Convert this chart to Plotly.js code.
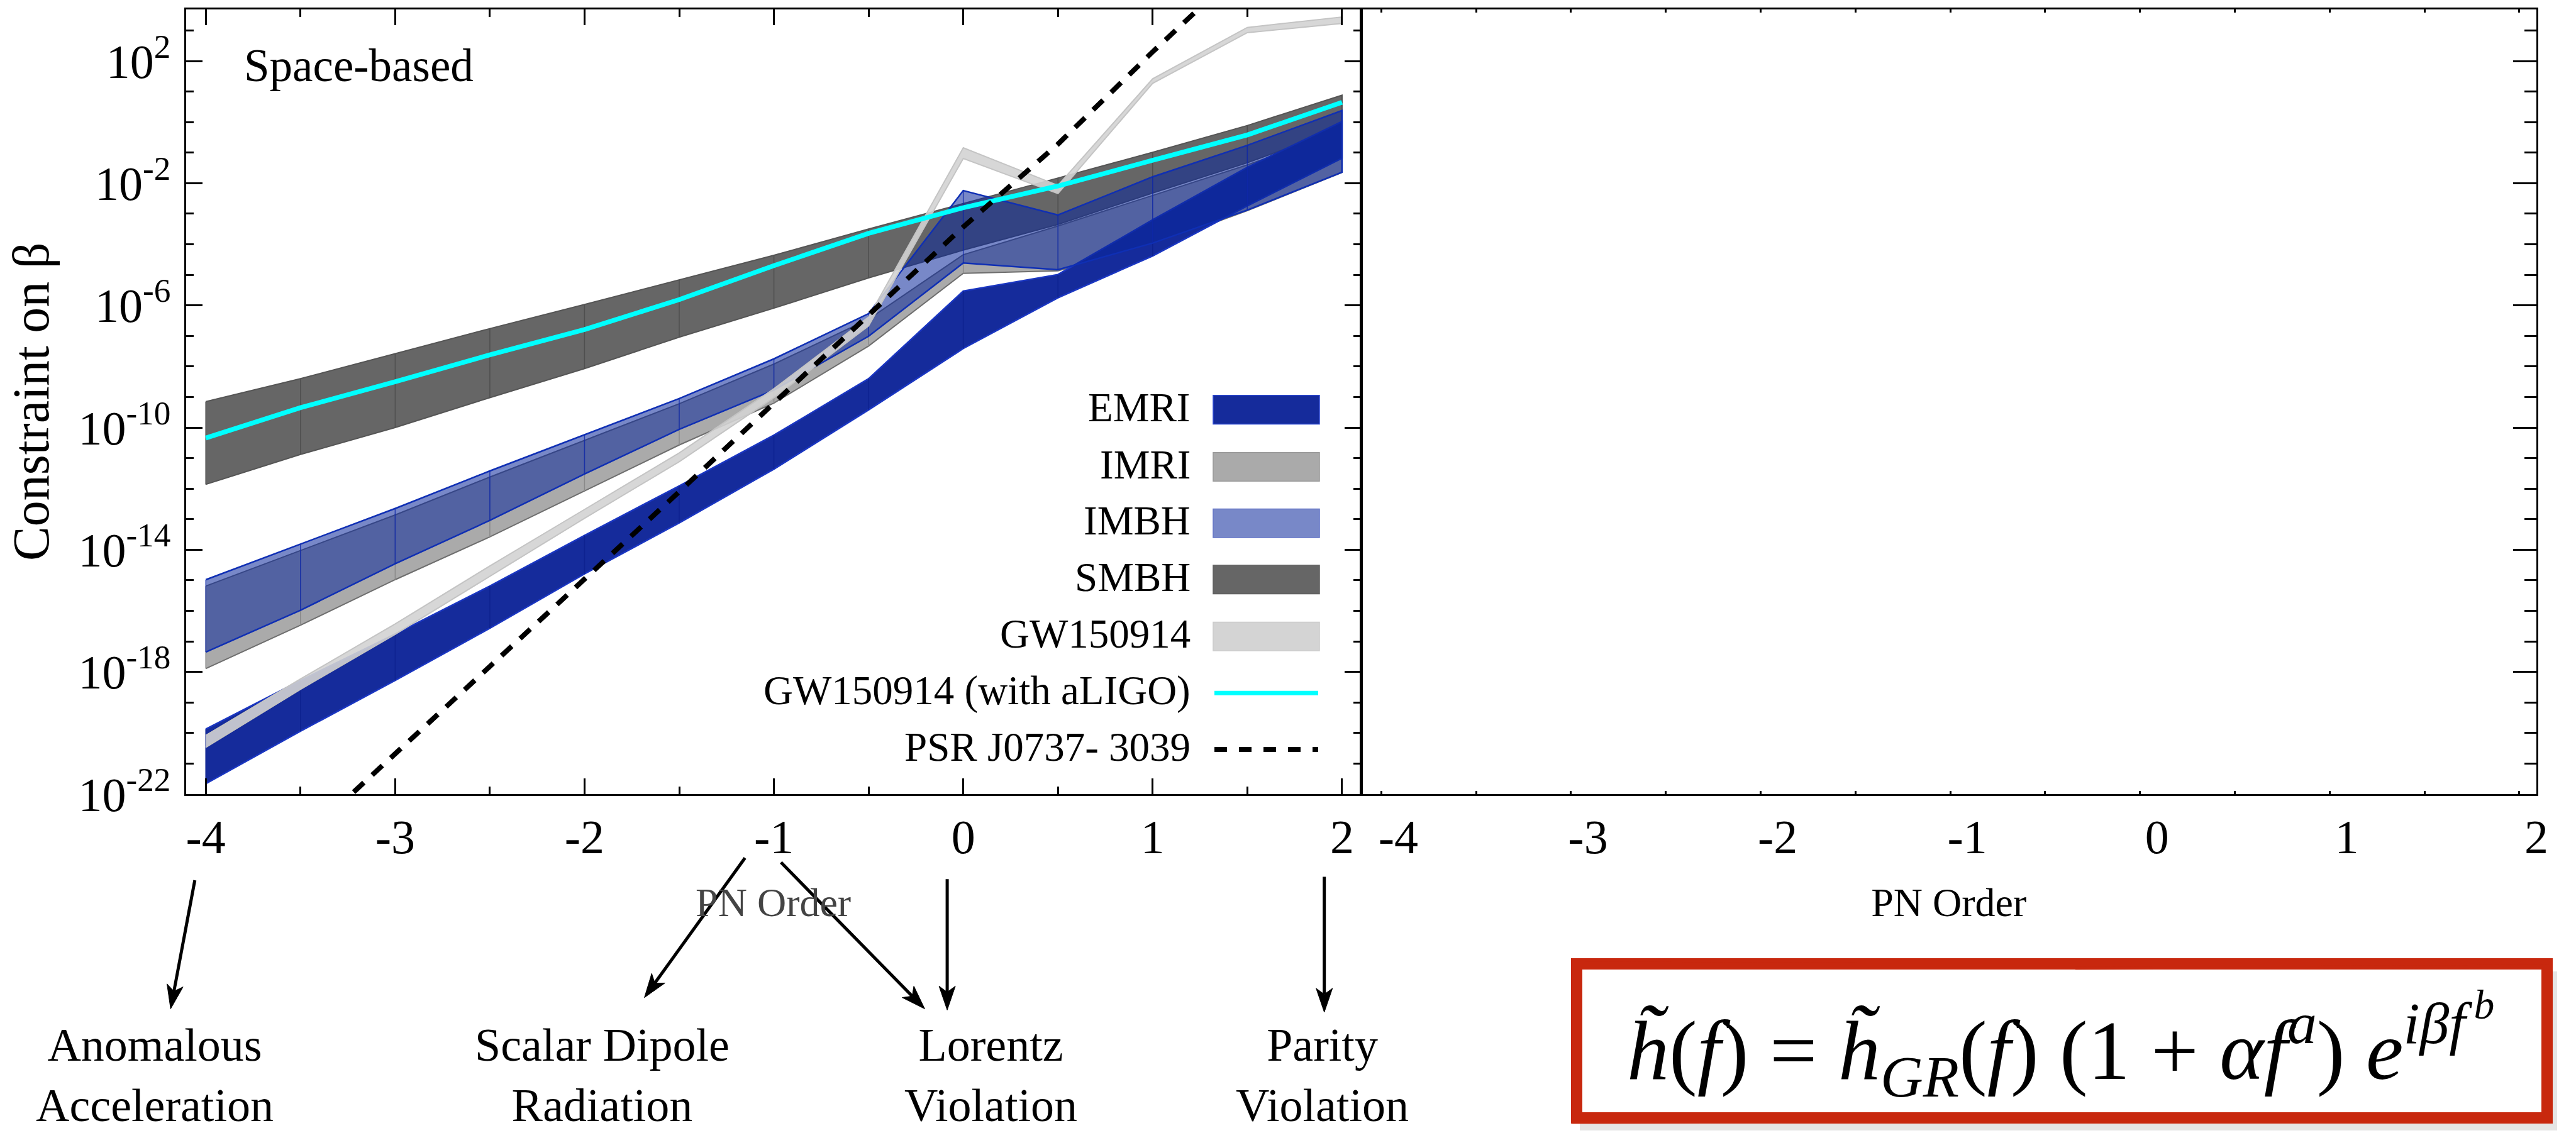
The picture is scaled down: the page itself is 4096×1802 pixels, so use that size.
<!DOCTYPE html>
<html><head><meta charset="utf-8">
<script src="https://cdn.plot.ly/plotly-3.0.1.min.js"></script>
<style>html,body{margin:0;padding:0;background:#fff;overflow:hidden}#chart{width:4096px;height:1802px}</style>
</head><body><div id="chart"></div>
<script>
const W = 4096, H = 1802;
const FONT = "'Liberation Serif', 'DejaVu Serif', serif";

// PN order (x positions of the curves)
const pnOrder = [-4, -3.5, -3, -2.5, -2, -1.5, -1, -0.5, 0, 0.5, 1, 1.5, 2];

// log10 of the constraint on beta
const emriTop    = [-19.87, -18.28, -16.76, -15.19, -13.53, -11.91, -10.25, -8.40, -5.53, -4.99, -3.20, -1.48, 0.02];
const emriBottom = [-21.66, -19.94, -18.28, -16.57, -14.79, -13.12, -11.36, -9.42, -7.41, -5.75, -4.38, -2.74, -1.18];
const imriTop    = [-15.19, -14.02, -12.86, -11.62, -10.42, -9.22, -7.92, -6.45, -4.34, -3.40, -2.40, -1.40, -0.30];
const imriBottom = [-17.89, -16.47, -14.98, -13.58, -12.08, -10.57, -9.20, -7.33, -4.95, -4.87, -4.03, -2.90, -1.65];
const imbhTop    = [-14.98, -13.82, -12.65, -11.42, -10.24, -9.05, -7.75, -6.27, -2.24, -3.04, -1.79, -0.76, 0.38];
const imbhBottom = [-17.35, -15.98, -14.46, -13.04, -11.52, -10.06, -8.77, -7.01, -4.61, -4.83, -3.96, -2.88, -1.64];
const smbhTop    = [-9.15, -8.40, -7.58, -6.76, -5.97, -5.16, -4.36, -3.50, -2.67, -1.83, -0.99, -0.11, 0.88];
const smbhBottom = [-11.86, -10.88, -10.00, -9.02, -8.07, -7.04, -6.09, -5.10, -4.19, -3.35, -2.32, -1.33, -0.20];
const gwTop      = [-20.08, -18.23, -16.43, -14.53, -12.68, -10.83, -8.73, -6.38, -0.84, -2.07, 1.42, 3.10, 3.44];
const gwBottom   = [-20.47, -18.57, -16.77, -14.87, -12.97, -11.12, -9.02, -6.67, -1.19, -2.34, 1.27, 2.93, 3.23];
const gwAligo    = [-10.34, -9.35, -8.50, -7.62, -6.79, -5.81, -4.70, -3.64, -2.80, -2.09, -1.25, -0.42, 0.65];
const psr        = [-26.40, -23.55, -20.70, -17.80, -14.95, -12.10, -9.20, -6.30, -3.43, -0.72, 2.30, 5.20, 8.10];

// axis ticks
const xTickVals = [-4, -3, -2, -1, 0, 1, 2];
const xTickText = ['-4', '-3', '-2', '-1', '0', '1', '2'];
const xMinorVals = [-3.5, -2.5, -1.5, -0.5, 0.5, 1.5];
const yMajorExp = [-22, -18, -14, -10, -6, -2, 2];
const yMinorExp = [-21, -20, -19, -17, -16, -15, -13, -12, -11, -9, -8, -7, -5, -4, -3, -1, 0, 1, 3];
const x2MinorVals = [-4.09, -3.59, -3.09, -2.59, -2.09, -1.59, -1.09, -0.59, -0.09, 0.41, 0.91, 1.41, 1.91];

// legend and annotation texts
const legendNames = ['EMRI', 'IMRI', 'IMBH', 'SMBH', 'GW150914', 'GW150914 (with aLIGO)', 'PSR J0737- 3039'];
const effectLabels = ['Anomalous<br>Acceleration', 'Scalar Dipole<br>Radiation', 'Lorentz<br>Violation', 'Parity<br>Violation'];

const p10 = v => Math.pow(10, v);
const px = v => v / W;
const py = v => 1 - v / H;

function band(top, bottom, fill, edge, ew) {
  const xs = pnOrder.concat(pnOrder.slice().reverse());
  const ys = top.map(p10).concat(bottom.slice().reverse().map(p10));
  return {x: xs, y: ys, mode: 'lines', fill: 'toself', fillcolor: fill,
          line: {color: edge, width: ew}, hoverinfo: 'skip', showlegend: false, xaxis: 'x', yaxis: 'y'};
}
function mesh(top, bottom, color, w) {
  const xs = [], ys = [];
  pnOrder.forEach((x, i) => { xs.push(x, x, null); ys.push(p10(bottom[i]), p10(top[i]), null); });
  return {x: xs, y: ys, mode: 'lines', line: {color: color, width: w}, hoverinfo: 'skip', showlegend: false, xaxis: 'x', yaxis: 'y'};
}

const traces = [
  band(imriTop, imriBottom, '#aaaaaa', '#6e6e6e', 2),
  mesh(imriTop, imriBottom, '#8a8a8a', 1.5),
  band(smbhTop, smbhBottom, '#666666', '#555555', 2),
  mesh(smbhTop, smbhBottom, '#4f4f4f', 1.5),
  band(emriTop, emriBottom, '#152b9b', '#1a36c2', 2.5),
  mesh(emriTop, emriBottom, '#0e2290', 1.5),
  band(imbhTop, imbhBottom, 'rgba(10,39,155,0.55)', '#0f2fb4', 2.5),
  mesh(imbhTop, imbhBottom, 'rgba(15,40,170,0.8)', 1.5),
  band(gwTop, gwBottom, 'rgba(211,211,211,0.9)', '#c4c4c4', 2),
  {x: pnOrder, y: gwAligo.map(p10), mode: 'lines', line: {color: '#00ffff', width: 7.5}, hoverinfo: 'skip', showlegend: false, xaxis: 'x', yaxis: 'y'},
  {x: pnOrder, y: psr.map(p10), mode: 'lines', line: {color: '#000000', width: 8, dash: '22px,18px'}, hoverinfo: 'skip', showlegend: false, xaxis: 'x', yaxis: 'y'},
  {x: [], y: [], mode: 'lines', showlegend: false, xaxis: 'x2', yaxis: 'y2'}
];

const yDom = [py(1263), py(14.5)];
const tickFont = {family: FONT, size: 76, color: '#000'};
const yMajorVals = yMajorExp.map(p10);
const yMajorText = yMajorExp.map(e => '10<sup>' + (e < 0 ? '-' + (-e) : e) + '</sup>');
const yMinorVals = yMinorExp.map(p10);

const layout = {
  width: W, height: H, autosize: false,
  margin: {l: 0, r: 0, t: 0, b: 0},
  paper_bgcolor: '#fff', plot_bgcolor: '#fff',
  font: {family: FONT, color: '#000'},
  showlegend: false,
  xaxis: {
    domain: [px(295.6), px(2163.7)], anchor: 'y', range: [-4.105, 2.099],
    tickmode: 'array', tickvals: xTickVals, ticktext: xTickText,
    ticks: 'inside', ticklen: 25, tickwidth: 3, tickcolor: '#000',
    minor: {tickmode: 'array', tickvals: xMinorVals, ticks: 'inside', ticklen: 12, tickwidth: 3, tickcolor: '#000', showgrid: false},
    showline: true, linewidth: 3, linecolor: '#000', mirror: 'ticks',
    showgrid: false, zeroline: false, tickfont: tickFont, ticklabelstandoff: 0,
    title: {text: 'PN Order', font: {family: FONT, size: 64, color: '#444'}, standoff: 40}
  },
  yaxis: {
    domain: yDom, anchor: 'x', type: 'log', range: [-22, 3.7],
    tickmode: 'array', tickvals: yMajorVals, ticktext: yMajorText,
    ticks: 'inside', ticklen: 26, tickwidth: 3, tickcolor: '#000',
    minor: {tickmode: 'array', tickvals: yMinorVals, ticks: 'inside', ticklen: 12, tickwidth: 3, tickcolor: '#000', showgrid: false},
    showline: true, linewidth: 3, linecolor: '#000', mirror: 'ticks',
    showgrid: false, zeroline: false, tickfont: tickFont, ticklabelstandoff: 6,
    title: {text: 'Constraint on β', font: {family: FONT, size: 82, color: '#000'}, standoff: 20}
  },
  xaxis2: {
    domain: [px(2164.6), px(4033)], anchor: 'y2', range: [-4.195, 2.0],
    tickmode: 'array', tickvals: xTickVals, ticktext: xTickText, ticks: '',
    minor: {tickmode: 'array', tickvals: x2MinorVals, ticks: 'inside', ticklen: 5, tickwidth: 3, tickcolor: '#000', showgrid: false},
    showline: true, linewidth: 3, linecolor: '#000', mirror: 'ticks',
    showgrid: false, zeroline: false, tickfont: tickFont, ticklabelstandoff: 0,
    title: {text: 'PN Order', font: {family: FONT, size: 64, color: '#000'}, standoff: 40}
  },
  yaxis2: {
    domain: yDom, anchor: 'x2', type: 'log', range: [-22, 3.7], side: 'right',
    tickmode: 'array', tickvals: yMajorVals, showticklabels: false,
    ticks: 'inside', ticklen: 37, tickwidth: 3, tickcolor: '#000',
    minor: {tickmode: 'array', tickvals: yMinorVals, ticks: 'inside', ticklen: 19, tickwidth: 3, tickcolor: '#000', showgrid: false},
    showline: true, linewidth: 3, linecolor: '#000', mirror: true,
    showgrid: false, zeroline: false
  },
  shapes: [],
  annotations: []
};

// ---- custom legend (text left of swatch) ----
const legY = [651.6, 742.5, 832.3, 921.8, 1012.2, 1102.3, 1191.9];
const swFill = ['#152b9b', '#aaaaaa', '#7888c8', '#666666', '#d4d4d4'];
const swEdge = ['#2a46d0', '#999999', '#6475c6', '#606060', '#cccccc'];
const sx0 = 1929, sx1 = 2098, sh = 45.6;
for (let i = 0; i < 5; i++) {
  layout.shapes.push({type: 'rect', xref: 'paper', yref: 'paper',
    x0: px(sx0), x1: px(sx1), y0: py(legY[i] + sh / 2), y1: py(legY[i] - sh / 2),
    fillcolor: swFill[i], line: {color: swEdge[i], width: 1.5}});
}
layout.shapes.push({type: 'line', xref: 'paper', yref: 'paper', x0: px(sx0 + 2), x1: px(sx1 - 2), y0: py(legY[5]), y1: py(legY[5]),
  line: {color: '#00ffff', width: 7}});
layout.shapes.push({type: 'line', xref: 'paper', yref: 'paper', x0: px(sx0 + 2), x1: px(sx1 - 2), y0: py(legY[6]), y1: py(legY[6]),
  line: {color: '#000', width: 8, dash: '20px,19px'}});
legendNames.forEach((t, i) => {
  layout.annotations.push({text: t, xref: 'paper', yref: 'paper', x: px(1895), y: py(legY[i] - 4),
    xanchor: 'right', yanchor: 'middle', showarrow: false, font: {family: FONT, size: 65, color: '#000'}});
});

// ---- panel label ----
layout.annotations.push({text: 'Space-based', xref: 'paper', yref: 'paper', x: px(386), y: py(104),
  xanchor: 'left', yanchor: 'middle', showarrow: false, font: {family: FONT, size: 73, color: '#000'}});

// ---- arrows from PN orders to effects (drawn as line + head shapes) ----
const arrows = [
  [309.8, 1400.0, 271.3, 1604.6],
  [1184.6, 1364.5, 1024.6, 1586.7],
  [1241.8, 1371.6, 1470.4, 1604.6],
  [1506.1, 1398.3, 1506.1, 1606.4],
  [2105.7, 1394.4, 2105.7, 1609.9]
];
arrows.forEach(a => {
  const dx = a[2] - a[0], dy = a[3] - a[1];
  const len = Math.hypot(dx, dy), ux = dx / len, uy = dy / len;
  const L = 38, hw = 13, back = 0.75;
  const bx = a[2] - ux * L, by = a[3] - uy * L;
  const cx = a[2] - ux * L * back, cy = a[3] - uy * L * back;
  const p1x = bx - uy * hw, p1y = by + ux * hw;
  const p2x = bx + uy * hw, p2y = by - ux * hw;
  layout.shapes.push({type: 'line', xref: 'paper', yref: 'paper', x0: px(a[0]), y0: py(a[1]), x1: px(cx), y1: py(cy),
    line: {color: '#000', width: 5}});
  layout.shapes.push({type: 'path', xref: 'paper', yref: 'paper',
    path: 'M' + px(a[2]) + ',' + py(a[3]) + ' L' + px(p1x) + ',' + py(p1y) + ' L' + px(cx) + ',' + py(cy) +
          ' L' + px(p2x) + ',' + py(p2y) + ' Z',
    fillcolor: '#000', line: {color: '#000', width: 1}});
});
const effX = [246, 957.5, 1575, 2102];
effectLabels.forEach((t, i) => {
  layout.annotations.push({text: t, xref: 'paper', yref: 'paper', x: px(effX[i]), y: py(1801),
    xanchor: 'center', yanchor: 'bottom', align: 'center', showarrow: false,
    font: {family: FONT, size: 74, color: '#000'}});
});

// ---- formula box ----
layout.shapes.push({type: 'rect', xref: 'paper', yref: 'paper', x0: px(2512), x1: px(4066), y0: py(1545), y1: py(1798),
  fillcolor: 'rgba(0,0,0,0.10)', line: {width: 0}});
layout.shapes.push({type: 'rect', xref: 'paper', yref: 'paper', x0: px(2507), x1: px(4050), y0: py(1533), y1: py(1778),
  fillcolor: '#ffffff', line: {color: '#c8280e', width: 18}});
layout.shapes.push({type: 'line', xref: 'paper', yref: 'paper', x0: px(2520), x1: px(3100), y0: py(1527), y1: py(1529),
  line: {color: 'rgba(200,40,14,0.7)', width: 5}});
layout.shapes.push({type: 'line', xref: 'paper', yref: 'paper', x0: px(3300), x1: px(4055), y0: py(1540), y1: py(1537),
  line: {color: 'rgba(200,40,14,0.7)', width: 5}});
layout.shapes.push({type: 'line', xref: 'paper', yref: 'paper', x0: px(2500), x1: px(3400), y0: py(1785), y1: py(1783),
  line: {color: 'rgba(200,40,14,0.7)', width: 5}});
layout.annotations.push({
  text: '<i>h̃</i>(<i>f</i>) = <i>h̃</i><sub><i>GR</i></sub>(<i>f</i>) (1 + <i>αf</i><sup><i>a</i></sup>) <i>e</i><sup><i>iβf</i><sup>\u2009<i>b</i></sup></sup>',
  xref: 'paper', yref: 'paper', x: px(3276), y: py(1662), xanchor: 'center', yanchor: 'middle',
  showarrow: false, font: {family: FONT, size: 134, color: '#000'}
});

Plotly.newPlot('chart', traces, layout, {displayModeBar: false, staticPlot: true});
</script>
</body></html>
